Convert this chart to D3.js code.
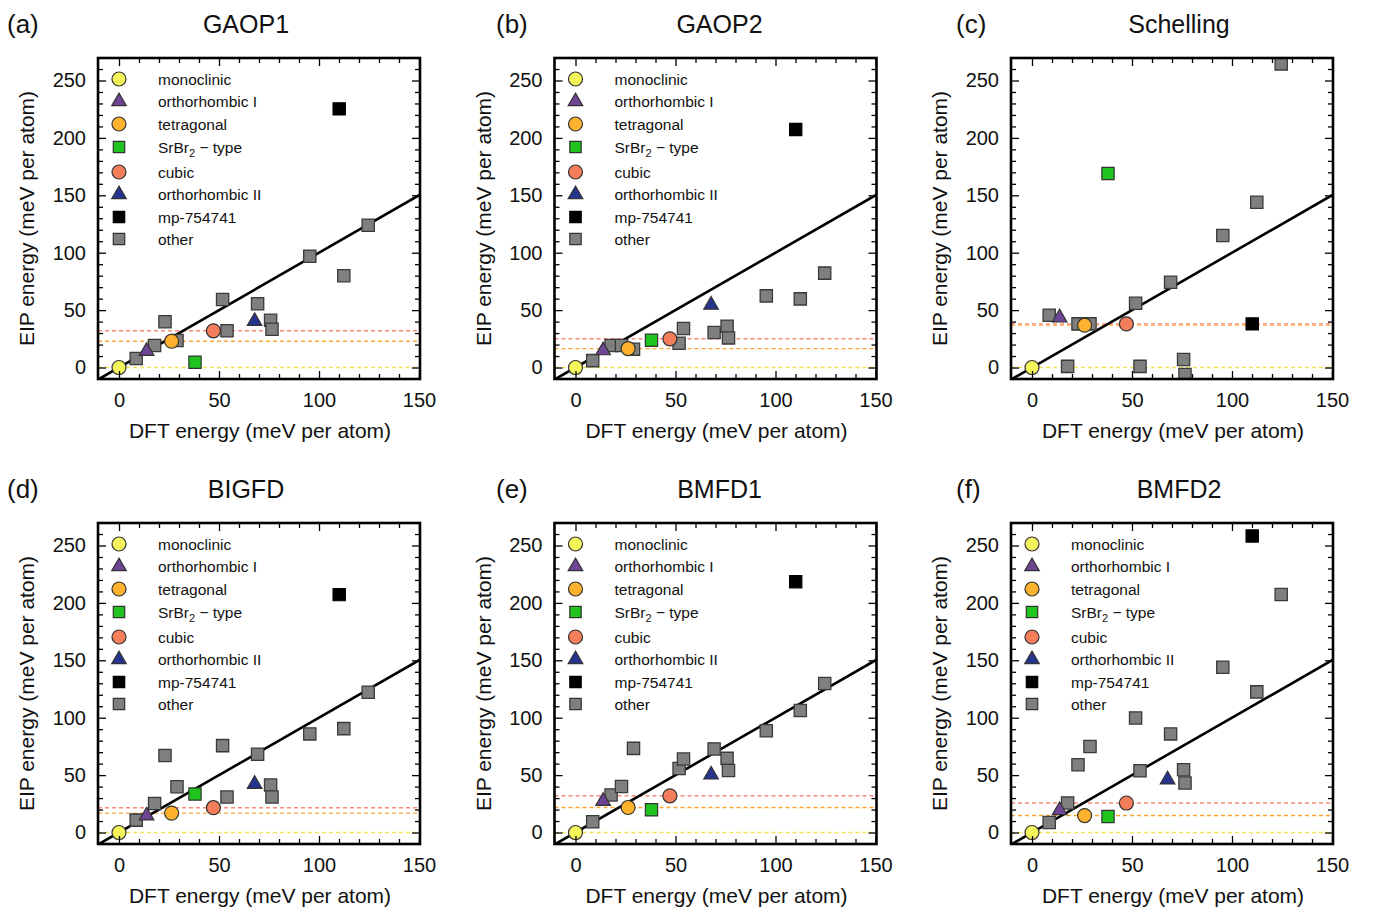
<!DOCTYPE html>
<html>
<head>
<meta charset="utf-8">
<script src="https://cdn.jsdelivr.net/npm/d3@7"></script>
<style>
  html, body { margin: 0; padding: 0; background: #fff; }
  svg { display: block; font-family: "Liberation Sans", Arial, Helvetica, sans-serif; }
</style>
</head>
<body>
<svg id="chart" width="1381" height="916"></svg>
<script>
// ---------------- data ----------------
const panelTitles = ["GAOP1", "GAOP2", "Schelling", "BIGFD", "BMFD1", "BMFD2"];
const panelLetters = ["(a)", "(b)", "(c)", "(d)", "(e)", "(f)"];

const phaseNames = ["monoclinic", "orthorhombic I", "tetragonal", "SrBr2-type", "cubic", "orthorhombic II", "mp-754741"];
const phaseDFT = [0, 13.8, 26.3, 38, 47.2, 67.8, 110.1];

// EIP energies for each phase, per panel (null = not shown)
const phaseEIP_GAOP1 = [0, 14.2, 22.9, 4.6, 32, 40.3, 225.3];
const phaseEIP_GAOP2 = [0, 14.8, 16.5, 23.8, 25, 54.5, 207.3];
const phaseEIP_Schelling = [0, 43.5, 36.9, 169, 38, null, 38];
const phaseEIP_BIGFD = [0, 14.6, 16.9, 33.5, 21.6, 42.2, 207.2];
const phaseEIP_BMFD1 = [0, 27.3, 21.8, 19.8, 32, 50.3, 218.5];
const phaseEIP_BMFD2 = [0, 19.2, 14.8, 14, 25.7, 46, 258.3];

// "other" structures
const otherDFT = [8.6, 17.8, 23, 29, 51.8, 54, 69.3, 75.8, 76.5, 95.4, 112.4, 124.6];
const otherEIP_GAOP1 = [7.8, 19.2, 39.8, 23.5, 59.2, 32, 55.5, 41.2, 33.4, 97, 80, 124];
const otherEIP_GAOP2 = [6, 19.2, 19.2, 16, 21.2, 34, 30.5, 36, 25.8, 62.4, 59.8, 82.2];
const otherEIP_Schelling = [45.6, 1, 38, 38, 56, 1, 74.3, 7, -6, 115, 144, 264.5];
const otherEIP_BIGFD = [10.8, 25.3, 67, 39.9, 75.7, 30.9, 68.1, 41.4, 30.9, 85.9, 90.5, 122.2];
const otherEIP_BMFD1 = [9.3, 32.7, 40.1, 73.3, 55.8, 64, 72.8, 64.6, 54.1, 88.7, 106.2, 129.8];
const otherEIP_BMFD2 = [8.7, 25.7, 59.1, 75, 99.8, 53.8, 85.9, 54.7, 43.1, 144, 122.5, 207.4];

const xMajorTicks = [0, 50, 100, 150];
const yMajorTicks = [0, 50, 100, 150, 200, 250];
const legendShown = [true, true, false, true, true, true];

// ---------------- styling ----------------
const phaseColors = ["#f6f55c", "#6e4594", "#ffb22e", "#1fc41f", "#f47e5c", "#26348f", "#000000"];
const phaseShapes = ["circle", "triangle", "circle", "square", "circle", "triangle", "square"];
const otherColor = "#7f7f7f";
const refLineColors = { mono: "#f2e45a", tetra: "#ffa630", cubic: "#f98a78" };

const phaseEIPs = [phaseEIP_GAOP1, phaseEIP_GAOP2, phaseEIP_Schelling, phaseEIP_BIGFD, phaseEIP_BMFD1, phaseEIP_BMFD2];
const otherEIPs = [otherEIP_GAOP1, otherEIP_GAOP2, otherEIP_Schelling, otherEIP_BIGFD, otherEIP_BMFD1, otherEIP_BMFD2];

const colLeft = [98, 554.5, 1011];
const rowTop = [58, 523];
const PW = 322, PH = 321;
const titleX = [246, 719.5, 1179];
const letterX = [7, 496, 956];
const titleBase = [33, 498];

const svg = d3.select("#chart");

function symbolPath(shape, legend) {
  if (shape === "circle") return d3.symbol().type(d3.symbolCircle).size(Math.PI * 7 * 7)();
  if (shape === "triangle") return d3.symbol().type(d3.symbolTriangle).size(92)();
  return d3.symbol().type(d3.symbolSquare).size(legend ? 130 : 150)();
}

panelTitles.forEach((title, i) => {
  const col = i % 3, row = Math.floor(i / 3);
  const L = colLeft[col], T = rowTop[row];
  const x = d3.scaleLinear().domain([-10.5, 150.5]).range([L, L + PW]);
  const y = d3.scaleLinear().domain([-10, 269.6]).range([T + PH, T]);
  const g = svg.append("g");

  // titles
  g.append("text").attr("x", letterX[col]).attr("y", titleBase[row])
    .attr("font-size", 26).attr("fill", "#111").text(panelLetters[i]);
  g.append("text").attr("x", titleX[col]).attr("y", titleBase[row])
    .attr("text-anchor", "middle").attr("font-size", 25).attr("fill", "#111").text(title);

  // clip
  const clipId = "clip" + i;
  svg.append("clipPath").attr("id", clipId).append("rect")
    .attr("x", L).attr("y", T).attr("width", PW).attr("height", PH);
  const plot = g.append("g").attr("clip-path", `url(#${clipId})`);

  const pe = phaseEIPs[i];
  // dashed reference lines: monoclinic, tetragonal, cubic
  const refs = [
    { v: pe[0], c: refLineColors.mono },
    { v: pe[2], c: refLineColors.tetra },
    { v: pe[4], c: refLineColors.cubic }
  ];
  refs.forEach(r => {
    plot.append("line").attr("x1", L).attr("x2", L + PW)
      .attr("y1", y(r.v)).attr("y2", y(r.v))
      .attr("stroke", r.c).attr("stroke-width", 1.4).attr("stroke-dasharray", "4,3");
  });

  // y = x line
  plot.append("line").attr("x1", x(-10.5)).attr("y1", y(-10.5))
    .attr("x2", x(150.5)).attr("y2", y(150.5))
    .attr("stroke", "#000").attr("stroke-width", 2.6);

  // other points
  const oe = otherEIPs[i];
  otherDFT.forEach((d, k) => {
    plot.append("path").attr("d", symbolPath("square"))
      .attr("transform", `translate(${x(d)},${y(oe[k])})`)
      .attr("fill", otherColor).attr("stroke", "#3a3a3a").attr("stroke-width", 1.3);
  });

  // phase points
  phaseDFT.forEach((d, k) => {
    if (pe[k] === null) return;
    plot.append("path").attr("d", symbolPath(phaseShapes[k]))
      .attr("transform", `translate(${x(d)},${y(pe[k])})`)
      .attr("fill", phaseColors[k])
      .attr("stroke", k === 6 ? "#000" : "#333").attr("stroke-width", 1.2);
  });

  // axes (ticks inward on all four sides)
  const xMinor = d3.range(0, 151, 10).filter(v => !xMajorTicks.includes(v));
  const yMinor = d3.range(0, 261, 10).filter(v => !yMajorTicks.includes(v));
  const tickStyle = sel => {
    sel.select(".domain").remove();
    sel.selectAll(".tick line").attr("stroke", "#000").attr("stroke-width", 1.3);
    sel.selectAll("text").attr("font-size", 20).attr("fill", "#111")
      .attr("font-family", "Liberation Sans, Arial, sans-serif");
  };
  g.append("g").attr("transform", `translate(0,${T + PH})`)
    .call(d3.axisBottom(x).tickValues(xMajorTicks).tickSize(-8).tickPadding(14).tickFormat(d3.format("d")))
    .call(tickStyle);
  g.append("g").attr("transform", `translate(0,${T + PH})`)
    .call(d3.axisBottom(x).tickValues(xMinor).tickSize(-5).tickFormat(""))
    .call(tickStyle);
  g.append("g").attr("transform", `translate(0,${T})`)
    .call(d3.axisTop(x).tickValues(xMajorTicks).tickSize(-8).tickFormat(""))
    .call(tickStyle);
  g.append("g").attr("transform", `translate(0,${T})`)
    .call(d3.axisTop(x).tickValues(xMinor).tickSize(-5).tickFormat(""))
    .call(tickStyle);
  g.append("g").attr("transform", `translate(${L},0)`)
    .call(d3.axisLeft(y).tickValues(yMajorTicks).tickSize(-8).tickPadding(12).tickFormat(d3.format("d")))
    .call(tickStyle);
  g.append("g").attr("transform", `translate(${L},0)`)
    .call(d3.axisLeft(y).tickValues(yMinor).tickSize(-5).tickFormat(""))
    .call(tickStyle);
  g.append("g").attr("transform", `translate(${L + PW},0)`)
    .call(d3.axisRight(y).tickValues(yMajorTicks).tickSize(-8).tickFormat(""))
    .call(tickStyle);
  g.append("g").attr("transform", `translate(${L + PW},0)`)
    .call(d3.axisRight(y).tickValues(yMinor).tickSize(-5).tickFormat(""))
    .call(tickStyle);

  // frame
  g.append("rect").attr("x", L).attr("y", T).attr("width", PW).attr("height", PH)
    .attr("fill", "none").attr("stroke", "#000").attr("stroke-width", 2.6);

  // axis labels
  g.append("text").attr("x", L + PW / 2 + 1).attr("y", T + PH + 59)
    .attr("text-anchor", "middle").attr("font-size", 21).attr("fill", "#111")
    .text("DFT energy (meV per atom)");
  g.append("text").attr("transform", `translate(${L - 64},${T + PH / 2}) rotate(-90)`)
    .attr("text-anchor", "middle").attr("font-size", 21).attr("fill", "#111")
    .text("EIP energy (meV per atom)");

  // legend
  if (legendShown[i]) {
    const rowsY = [21, 43.5, 66, 89, 114, 136.5, 159, 181];
    const entries = phaseNames.map((n, k) => ({ name: n, shape: phaseShapes[k], color: phaseColors[k] }))
      .concat([{ name: "other", shape: "square", color: otherColor }]);
    entries.forEach((e, k) => {
      const ly = T + rowsY[k];
      g.append("path").attr("d", symbolPath(e.shape, true))
        .attr("transform", `translate(${L + 21},${ly})`)
        .attr("fill", e.color)
        .attr("stroke", e.color === "#000000" ? "#000" : "#333").attr("stroke-width", 1.2);
      const t = g.append("text").attr("x", L + 60).attr("y", ly + 5.5)
        .attr("font-size", 15.5).attr("fill", "#111");
      if (e.name === "SrBr2-type") {
        t.append("tspan").text("SrBr");
        t.append("tspan").attr("font-size", 11).attr("dy", 4).text("2");
        t.append("tspan").attr("dy", -4).text(" \u2212 type");
      } else {
        t.text(e.name);
      }
    });
  }
});
</script>
</body>
</html>
